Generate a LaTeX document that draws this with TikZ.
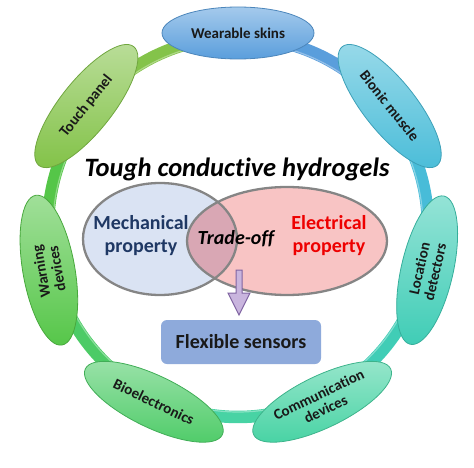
\documentclass[tikz,border=0pt]{standalone}
\usepackage{fontspec}
\setmainfont[Ligatures={NoCommon}]{Carlito}
\usetikzlibrary{shapes.geometric,calc}
\definecolor{cWear}{HTML}{5A9EDC}
\definecolor{cBion}{HTML}{48BCD8}
\definecolor{cLoc}{HTML}{40CDB6}
\definecolor{cComm}{HTML}{48D3A4}
\definecolor{cBio}{HTML}{4CCB66}
\definecolor{cWarn}{HTML}{55C648}
\definecolor{cTouch}{HTML}{84C34A}
\definecolor{venBlue}{HTML}{DAE3F3}
\definecolor{venRed}{HTML}{F8C4C4}
\definecolor{venMix}{HTML}{D9A7B4}
\definecolor{venGray}{HTML}{858585}
\definecolor{mechBlue}{HTML}{1F3864}
\definecolor{elecRed}{HTML}{EE0000}
\definecolor{arrowLine}{HTML}{8064A2}
\definecolor{arrowFill}{HTML}{C9B5DE}
\definecolor{boxBlue}{HTML}{8EAADB}
\begin{document}
\begin{tikzpicture}[x=1pt,y=1pt,
  app/.style={ellipse, minimum width=152, minimum height=52, inner sep=0pt,
    top color=#1!55!white, bottom color=#1, draw=#1!85!black, line width=0.8pt,
    text=black!90, align=center, font=\fontsize{15}{16}\selectfont\bfseries},
  ringseg/.style={line width=12.5pt},
  vborder/.style={draw=venGray, line width=2.3pt},
  proplabel/.style={align=center, font=\fontsize{20}{23}\selectfont\bfseries}]
\useasboundingbox (0,0) rectangle (474,467);
\coordinate (O) at (238,240);
% ring
\foreach \c [count=\i from 0] in {cWear,cBion,cLoc,cComm,cBio,cWarn,cTouch} {
  \pgfmathsetmacro\a{90-\i*360/7}
  \draw[ringseg, \c] ($(O)+(\a:190)$) arc[start angle=\a, end angle=\a-360/7, radius=190];
  \draw[white, opacity=0.35, line width=1.2pt] ($(O)+(\a:185)$) arc[start angle=\a, end angle=\a-360/7, radius=185];
}
% application ellipses
\node[app=cWear, rotate=0] (wear) at ($(O)+(90:194)$) {Wearable skins};
\node[app=cBion, rotate=-51.43] (bion) at ($(O)+(38.57:194)$) {Bionic muscle};
\node[app=cLoc, rotate=77.14] (loc) at ($(O)+(-12.86:194)$) {Location\\detectors};
\node[app=cComm, rotate=25.71] (comm) at ($(O)+(-64.29:194)$) {Communication\\devices};
\node[app=cBio, rotate=-25.71] (bio) at ($(O)+(-115.71:194)$) {Bioelectronics};
\node[app=cWarn, rotate=100] (warn) at ($(O)+(192.86:194)$) {Warning\\devices};
\node[app=cTouch, rotate=51.43] (touch) at ($(O)+(141.43:194)$) {Touch panel};
% title
\node[font=\fontsize{26.5}{29}\selectfont\bfseries\itshape] (title) at (237,298) {Tough conductive hydrogels};
% venn
\coordinate (mc) at (160,228);
\coordinate (ec) at (287,226);
\fill[venBlue] (mc) ellipse [x radius=77, y radius=56];
\fill[venRed] (ec) ellipse [x radius=100, y radius=54];
\begin{scope}
  \clip (mc) ellipse [x radius=77, y radius=56];
  \fill[venMix] (ec) ellipse [x radius=100, y radius=54];
\end{scope}
\draw[vborder] (mc) ellipse [x radius=77, y radius=56];
\draw[vborder] (ec) ellipse [x radius=100, y radius=54];
\node[proplabel, text=mechBlue] (mtext) at (141,231) {Mechanical\\property};
\node[proplabel, text=elecRed] (etext) at (329,231) {Electrical\\property};
\node[font=\fontsize{20}{23}\selectfont\bfseries\itshape] (trade) at (236,228) {Trade-off};
% arrow
\draw[draw=arrowLine, fill=arrowFill, line width=1pt, line join=miter]
  (236,197) -- (242,197) -- (242,174) -- (250,174) -- (239,152) -- (228,174) -- (236,174) -- cycle;
% box
\node[fill=boxBlue, rounded corners=6pt, minimum width=160, minimum height=44,
  text=black!90, font=\fontsize{20}{24}\selectfont\bfseries] (flex) at (241,125) {Flexible sensors};
\end{tikzpicture}
\end{document}
